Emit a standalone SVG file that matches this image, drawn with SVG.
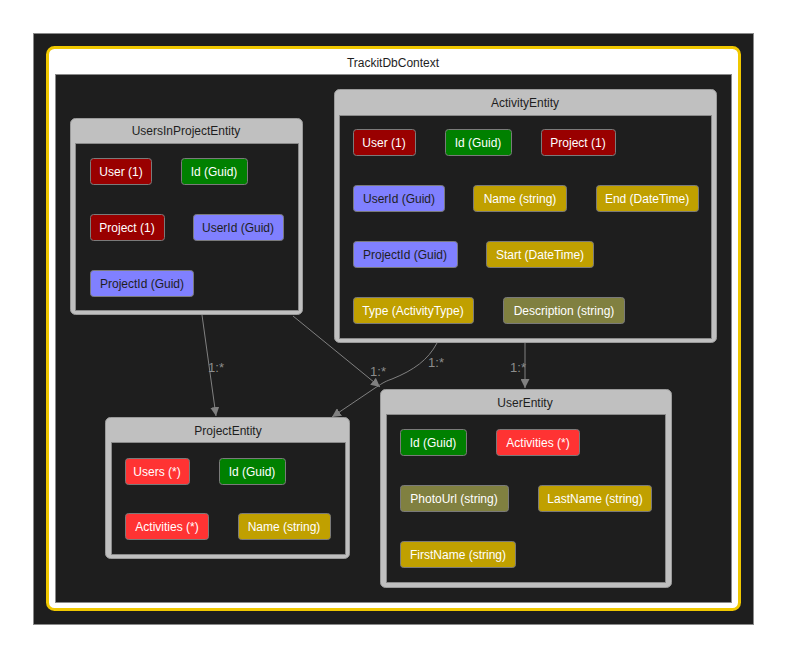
<svg xmlns="http://www.w3.org/2000/svg" width="787" height="657" viewBox="0 0 787 657">
<defs>
<style>
text{font-family:"Liberation Sans","DejaVu Sans",sans-serif;font-size:12px;text-anchor:middle}
.hdr{fill:#1e1e1e}
.box{fill:#c0c0c0;stroke:#9a9a9a;stroke-width:1}
.inner{fill:#1e1e1e;stroke:#8a8a8a;stroke-width:1}
.p{stroke:#7a7a7a;stroke-width:1}
.pt{fill:#ffffff}
.dk{fill:#1e1e1e}
.nav1{fill:#990000}
.key{fill:#008000}
.fk{fill:#8080ff}
.req{fill:#c0a000}
.opt{fill:#808040}
.navm{fill:#ff3333}
.edge{fill:none;stroke:#808080;stroke-width:1}
.lbl{fill:#8c8c8c;font-size:13px}
</style>
<marker id="arr" viewBox="0 0 10 10" refX="10" refY="5" markerWidth="9" markerHeight="9" markerUnits="userSpaceOnUse" orient="auto">
<path d="M0,0 L10,5 L0,10 z" fill="#808080"/>
</marker>
</defs>
<rect x="0" y="0" width="787" height="657" fill="#ffffff"/>
<rect x="33.5" y="33.5" width="720" height="591" fill="#1e1e1e" stroke="#8a8a8a" stroke-width="1"/>
<g id="TrackitDbContext">
<rect x="47.5" y="47.5" width="692" height="562" rx="7" fill="#ffffff" stroke="#f0c800" stroke-width="3"/>
<rect x="55.5" y="74.5" width="676" height="528" fill="#1e1e1e" stroke="#8a8a8a" stroke-width="1"/>
<text x="393" y="67" class="hdr">TrackitDbContext</text>
</g>
<g id="connectors">
<path class="edge" d="M202,315 L216,416" marker-end="url(#arr)"/>
<text x="216" y="372" class="lbl">1:*</text>
<path class="edge" d="M293,316 L380,387" marker-end="url(#arr)"/>
<text x="378" y="376" class="lbl">1:*</text>
<path class="edge" d="M437,343 C428,360 414,370 392,379 C383,382 380,385 375,388 L332,417" marker-end="url(#arr)"/>
<text x="436" y="367" class="lbl">1:*</text>
<path class="edge" d="M525,343 L525,388" marker-end="url(#arr)"/>
<text x="518" y="372" class="lbl">1:*</text>
</g>
<g id="UsersInProjectEntity">
<rect class="box" x="70.5" y="118.5" width="232" height="196" rx="5"/>
<rect class="inner" x="75.5" y="143.5" width="223" height="167"/>
<text x="186" y="135" class="hdr">UsersInProjectEntity</text>
<rect class="p nav1" x="90.5" y="158.5" width="61" height="26" rx="3"/><text x="121" y="176" class="pt">User (1)</text>
<rect class="p key" x="181.5" y="158.5" width="66" height="26" rx="3"/><text x="214" y="176" class="pt">Id (Guid)</text>
<rect class="p nav1" x="90.5" y="214.5" width="74" height="26" rx="3"/><text x="127" y="232" class="pt">Project (1)</text>
<rect class="p fk" x="193.5" y="214.5" width="90" height="26" rx="3"/><text x="238" y="232" class="dk">UserId (Guid)</text>
<rect class="p fk" x="90.5" y="270.5" width="103" height="26" rx="3"/><text x="142" y="288" class="dk">ProjectId (Guid)</text>
</g>
<g id="ActivityEntity">
<rect class="box" x="334.5" y="89.5" width="382" height="253" rx="5"/>
<rect class="inner" x="339.5" y="115.5" width="372" height="223"/>
<text x="525" y="107" class="hdr">ActivityEntity</text>
<rect class="p nav1" x="353.5" y="129.5" width="62" height="26" rx="3"/><text x="384" y="147" class="pt">User (1)</text>
<rect class="p key" x="445.5" y="129.5" width="66" height="26" rx="3"/><text x="478" y="147" class="pt">Id (Guid)</text>
<rect class="p nav1" x="541.5" y="129.5" width="74" height="26" rx="3"/><text x="578" y="147" class="pt">Project (1)</text>
<rect class="p fk" x="353.5" y="185.5" width="91" height="26" rx="3"/><text x="399" y="203" class="dk">UserId (Guid)</text>
<rect class="p req" x="473.5" y="185.5" width="93" height="26" rx="3"/><text x="520" y="203" class="pt">Name (string)</text>
<rect class="p req" x="596.5" y="185.5" width="102" height="26" rx="3"/><text x="647" y="203" class="pt">End (DateTime)</text>
<rect class="p fk" x="353.5" y="241.5" width="104" height="26" rx="3"/><text x="405" y="259" class="dk">ProjectId (Guid)</text>
<rect class="p req" x="486.5" y="241.5" width="107" height="26" rx="3"/><text x="540" y="259" class="pt">Start (DateTime)</text>
<rect class="p req" x="353.5" y="297.5" width="120" height="26" rx="3"/><text x="413" y="315" class="pt">Type (ActivityType)</text>
<rect class="p opt" x="503.5" y="297.5" width="121" height="26" rx="3"/><text x="564" y="315" class="pt">Description (string)</text>
</g>
<g id="ProjectEntity">
<rect class="box" x="105.5" y="417.5" width="244" height="141" rx="5"/>
<rect class="inner" x="111.5" y="442.5" width="234" height="112"/>
<text x="228" y="435" class="hdr">ProjectEntity</text>
<rect class="p navm" x="125.5" y="458.5" width="64" height="26" rx="3"/><text x="157" y="476" class="pt">Users (*)</text>
<rect class="p key" x="219.5" y="458.5" width="66" height="26" rx="3"/><text x="252" y="476" class="pt">Id (Guid)</text>
<rect class="p navm" x="125.5" y="513.5" width="83" height="26" rx="3"/><text x="167" y="531" class="pt">Activities (*)</text>
<rect class="p req" x="238.5" y="513.5" width="92" height="26" rx="3"/><text x="284" y="531" class="pt">Name (string)</text>
</g>
<g id="UserEntity">
<rect class="box" x="380.5" y="389.5" width="291" height="198" rx="5"/>
<rect class="inner" x="386.5" y="414.5" width="279" height="168"/>
<text x="525" y="407" class="hdr">UserEntity</text>
<rect class="p key" x="400.5" y="429.5" width="66" height="26" rx="3"/><text x="433" y="447" class="pt">Id (Guid)</text>
<rect class="p navm" x="496.5" y="429.5" width="83" height="26" rx="3"/><text x="538" y="447" class="pt">Activities (*)</text>
<rect class="p opt" x="400.5" y="485.5" width="108" height="26" rx="3"/><text x="454" y="503" class="pt">PhotoUrl (string)</text>
<rect class="p req" x="538.5" y="485.5" width="113" height="26" rx="3"/><text x="595" y="503" class="pt">LastName (string)</text>
<rect class="p req" x="400.5" y="541.5" width="115" height="26" rx="3"/><text x="458" y="559" class="pt">FirstName (string)</text>
</g>
</svg>
